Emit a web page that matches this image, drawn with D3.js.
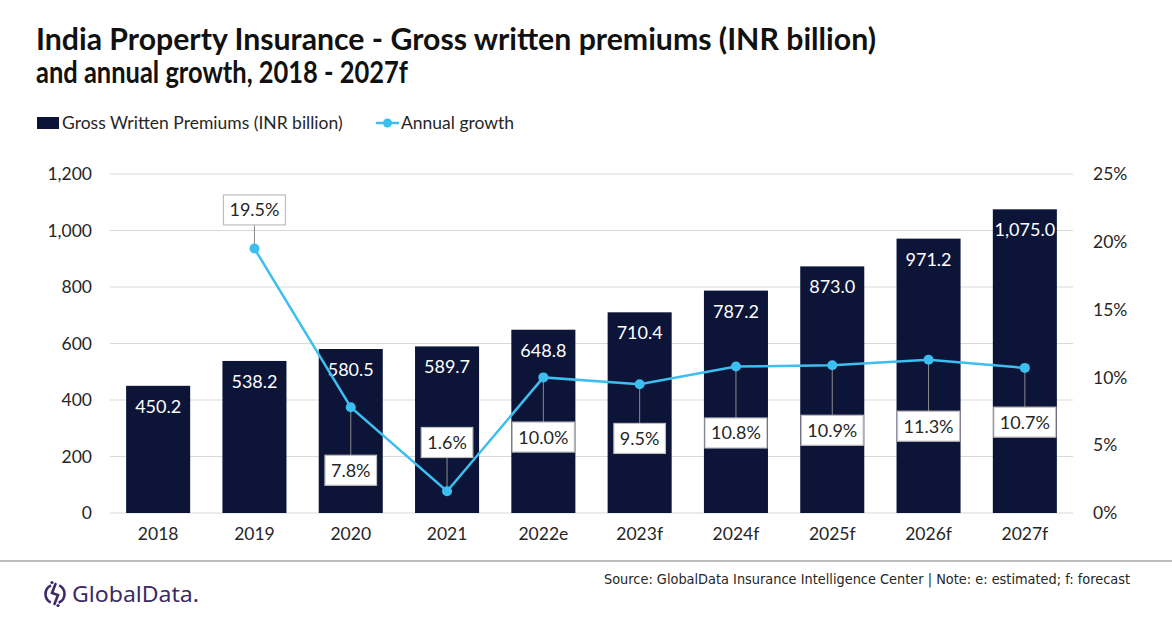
<!DOCTYPE html>
<html><head><meta charset="utf-8">
<script src="https://cdn.jsdelivr.net/npm/d3@7"></script>
<style>
html,body{margin:0;padding:0;background:#fff;}
svg{display:block;font-family:Lato,"Open Sans",sans-serif;}
</style></head>
<body>
<svg id="chart" width="1172" height="628"></svg>
<script>
const categories = ['2018','2019','2020','2021','2022e','2023f','2024f','2025f','2026f','2027f'];
const premiums = [450.2, 538.2, 580.5, 589.7, 648.8, 710.4, 787.2, 873.0, 971.2, 1075.0];
const growth = [null, 19.5, 7.8, 1.6, 10.0, 9.5, 10.8, 10.9, 11.3, 10.7];
// where each growth label box sits, in right-axis units (%)
const growthLabelAt = [null, 22.35, 3.15, 5.2, 5.6, 5.5, 5.9, 6.1, 6.4, 6.7];
const leftTicks = [0, 200, 400, 600, 800, 1000, 1200];
const rightTicks = [0, 5, 10, 15, 20, 25];

const svg = d3.select('#chart');
const textColor = '#262626';
const barColor = '#0c1538';
const lineColor = '#3dbef0';

// Title
const title = svg.append('g').attr('font-weight', 700).attr('font-size', 29.5).attr('fill', '#111');
title.append('text').attr('x', 36).attr('y', 50).attr('textLength', 840).attr('lengthAdjust', 'spacingAndGlyphs')
  .text('India Property Insurance - Gross written premiums (INR billion)');
title.append('text').attr('x', 36).attr('y', 83).attr('textLength', 372).attr('lengthAdjust', 'spacingAndGlyphs')
  .text('and annual growth, 2018 - 2027f');

// Legend
svg.append('rect').attr('x', 37).attr('y', 117).attr('width', 22).attr('height', 12).attr('fill', barColor);
svg.append('text').attr('x', 62).attr('y', 129).attr('font-size', 17.5).attr('fill', textColor).text('Gross Written Premiums (INR billion)');
svg.append('line').attr('x1', 376).attr('x2', 399).attr('y1', 123).attr('y2', 123).attr('stroke', lineColor).attr('stroke-width', 2.5);
svg.append('circle').attr('cx', 387.5).attr('cy', 123).attr('r', 4.5).attr('fill', lineColor);
svg.append('text').attr('x', 401).attr('y', 129).attr('font-size', 17.5).attr('fill', textColor).text('Annual growth');

// Scales
const x = d3.scaleBand().domain(categories).range([110, 1073]).paddingInner(0.335).paddingOuter(0.1675);
const yL = d3.scaleLinear().domain([0, 1200]).range([513, 174]);
const yR = d3.scaleLinear().domain([0, 25]).range([513, 174]);

// Gridlines
svg.append('g').selectAll('line').data(leftTicks).join('line')
  .attr('x1', 110).attr('x2', 1073)
  .attr('y1', d => yL(d)).attr('y2', d => yL(d))
  .attr('stroke', '#d9d9d9').attr('stroke-width', 1.2);

// Left axis
const axL = svg.append('g').attr('transform', 'translate(92,0)')
  .call(d3.axisLeft(yL).tickValues(leftTicks).tickFormat(d3.format(',')).tickSize(0).tickPadding(0));
axL.select('.domain').remove();
axL.selectAll('text').attr('font-size', 17.5).attr('fill', textColor).attr('font-family', 'Lato');

// Right axis
const axR = svg.append('g').attr('transform', 'translate(1093,0)')
  .call(d3.axisRight(yR).tickValues(rightTicks).tickFormat(d => d + '%').tickSize(0).tickPadding(0));
axR.select('.domain').remove();
axR.selectAll('text').attr('font-size', 17.5).attr('fill', textColor).attr('font-family', 'Lato');

// Bottom axis
const axB = svg.append('g').attr('transform', 'translate(0,528)')
  .call(d3.axisBottom(x).tickSize(0).tickPadding(0));
axB.select('.domain').remove();
axB.selectAll('text').attr('font-size', 17.5).attr('fill', textColor).attr('font-family', 'Lato');

// Bars
const rows = categories.map((c, i) => ({c, v: premiums[i], g: growth[i], la: growthLabelAt[i]}));
svg.append('g').selectAll('rect').data(rows).join('rect')
  .attr('x', d => x(d.c)).attr('width', x.bandwidth())
  .attr('y', d => yL(d.v)).attr('height', d => yL(0) - yL(d.v))
  .attr('fill', barColor);

svg.append('g').selectAll('text').data(rows).join('text')
  .attr('x', d => x(d.c) + x.bandwidth() / 2)
  .attr('y', d => yL(d.v) + 27)
  .attr('text-anchor', 'middle').attr('font-size', 18).attr('fill', '#fff')
  .text(d => d3.format(',.1f')(d.v));

// Growth line
const gRows = rows.filter(d => d.g != null);
const cx = d => x(d.c) + x.bandwidth() / 2;

// leader lines
svg.append('g').selectAll('line').data(gRows).join('line')
  .attr('x1', cx).attr('x2', cx)
  .attr('y1', d => yR(d.g))
  .attr('y2', d => d.la > d.g ? yR(d.la) + 15 : yR(d.la) - 15)
  .attr('stroke', '#8a8a8a').attr('stroke-width', 1);

svg.append('path').datum(gRows)
  .attr('d', d3.line().x(cx).y(d => yR(d.g)))
  .attr('fill', 'none').attr('stroke', lineColor).attr('stroke-width', 2.5);

svg.append('g').selectAll('circle').data(gRows).join('circle')
  .attr('cx', cx).attr('cy', d => yR(d.g)).attr('r', 5).attr('fill', lineColor);

// growth labels
const lg = svg.append('g').selectAll('g').data(gRows).join('g');
lg.append('text')
  .attr('x', cx).attr('y', d => yR(d.la) + 6.5)
  .attr('text-anchor', 'middle').attr('font-size', 18).attr('fill', textColor)
  .text(d => d3.format('.1f')(d.g) + '%');
lg.each(function(d) {
  const g = d3.select(this);
  const t = g.select('text');
  const w = t.node().getComputedTextLength() + 12;
  g.insert('rect', 'text')
    .attr('x', cx(d) - w / 2).attr('y', yR(d.la) - 15)
    .attr('width', w).attr('height', 30)
    .attr('fill', '#fff').attr('stroke', '#bfbfbf').attr('stroke-width', 1.2);
});

// Separator
svg.append('line').attr('x1', 0).attr('x2', 1172).attr('y1', 561).attr('y2', 561).attr('stroke', '#a6a6a6').attr('stroke-width', 1.5);

// Source
svg.append('text').attr('x', 1130).attr('y', 584).attr('text-anchor', 'end')
  .attr('font-size', 14.5).attr('fill', textColor)
  .attr('font-family', '"Liberation Sans Narrow","DejaVu Sans Condensed",Lato,sans-serif')
  .attr('textLength', 526).attr('lengthAdjust', 'spacingAndGlyphs')
  .text('Source: GlobalData Insurance Intelligence Center | Note: e: estimated; f: forecast');

// Logo
const logo = svg.append('g').attr('stroke', '#3b2a66').attr('fill', 'none').attr('stroke-width', 2.6).attr('stroke-linecap', 'round');
logo.append('path').attr('transform', 'translate(55,594)').attr('d', d3.arc()({innerRadius: 9.5, outerRadius: 9.5, startAngle: 0.45, endAngle: 2.75}));
logo.append('path').attr('transform', 'translate(55,594)').attr('d', d3.arc()({innerRadius: 9.5, outerRadius: 9.5, startAngle: 3.6, endAngle: 5.85}));
logo.append('path').attr('d', 'M55.5,584 L52,593 L58,595 L54.5,604');
svg.append('circle').attr('cx', 52).attr('cy', 582.5).attr('r', 1.6).attr('fill', '#3b2a66');
svg.append('circle').attr('cx', 58).attr('cy', 605.5).attr('r', 1.6).attr('fill', '#3b2a66');
svg.append('text').attr('x', 72).attr('y', 602).attr('font-size', 22).attr('font-weight', 400)
  .attr('font-family', '"Noto Sans",Lato,sans-serif').attr('fill', '#3b2a66')
  .attr('textLength', 127).attr('lengthAdjust', 'spacingAndGlyphs').text('GlobalData.');
</script>
</body></html>
